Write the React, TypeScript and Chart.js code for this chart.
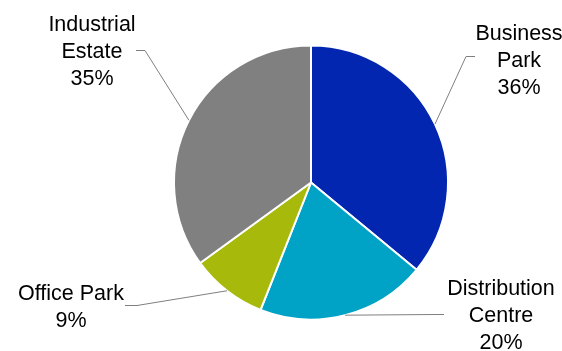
import React, { useEffect, useRef } from "react";
import { Chart, registerables } from "chart.js";

Chart.register(...registerables);

const categories = ["Business Park", "Distribution Centre", "Office Park", "Industrial Estate"];
const labelLines = [["Business", "Park"], ["Distribution", "Centre"], ["Office Park"], ["Industrial", "Estate"]];
const shares = [36, 20, 9, 35];
const colors = ["#0226AF", "#00A2C5", "#A7BA0B", "#808080"];

// label layout, relative to the pie centre (pixels)
const labelCentres = [
  { x: 208, y: -121 },
  { x: 190, y: 134 },
  { x: -240, y: 125 },
  { x: -219, y: -130 },
];
const elbows = [
  { x: 155, y: -126, dx: 9 },
  { x: 125, y: 132, dx: 8 },
  { x: -174, y: 123, dx: -12 },
  { x: -166, y: -132, dx: -9 },
];

const FONT_SIZE = 21.5;
const LINE_H = 27;

const labelPlugin = {
  id: "pieLabels",
  afterDraw(chart: any) {
    const ctx = chart.ctx;
    const meta = chart.getDatasetMeta(0);
    ctx.save();
    meta.data.forEach((arc: any, i: number) => {
      const { x, y, startAngle, endAngle, outerRadius } = arc.getProps(
        ["x", "y", "startAngle", "endAngle", "outerRadius"],
        true
      );
      const mid = (startAngle + endAngle) / 2;
      const px = x + Math.cos(mid) * outerRadius;
      const py = y + Math.sin(mid) * outerRadius;
      const e = elbows[i];
      ctx.beginPath();
      ctx.strokeStyle = "#7f7f7f";
      ctx.lineWidth = 1;
      ctx.moveTo(px, py);
      ctx.lineTo(x + e.x, y + e.y);
      ctx.lineTo(x + e.x + e.dx, y + e.y);
      ctx.stroke();

      const lines = [...labelLines[i], shares[i] + "%"];
      const c = labelCentres[i];
      ctx.fillStyle = "#000000";
      ctx.font = `${FONT_SIZE}px "Liberation Sans", Arial, sans-serif`;
      ctx.textAlign = "center";
      ctx.textBaseline = "middle";
      const n = lines.length;
      lines.forEach((t, k) => {
        ctx.fillText(t, x + c.x, y + c.y + (k - (n - 1) / 2) * LINE_H);
      });
    });
    ctx.restore();
  },
};

export default function App() {
  const ref = useRef<HTMLCanvasElement | null>(null);
  useEffect(() => {
    document.body.style.margin = "0";
    const chart = new Chart(ref.current!, {
      type: "pie",
      data: {
        labels: categories,
        datasets: [
          {
            data: shares,
            backgroundColor: colors,
            borderColor: "#ffffff",
            borderWidth: 2,
          },
        ],
      },
      options: {
        animation: false,
        responsive: false,
        radius: 137,
        layout: { padding: { left: 174, right: 114, top: 46, bottom: 32 } },
        plugins: {
          legend: { display: false },
          tooltip: { enabled: false },
        },
      } as any,
      plugins: [labelPlugin],
    });
    return () => chart.destroy();
  }, []);
  return (
    <div style={{ width: 562, height: 351 }}>
      <canvas ref={ref} width={562} height={351} style={{ display: "block" }} />
    </div>
  );
}
